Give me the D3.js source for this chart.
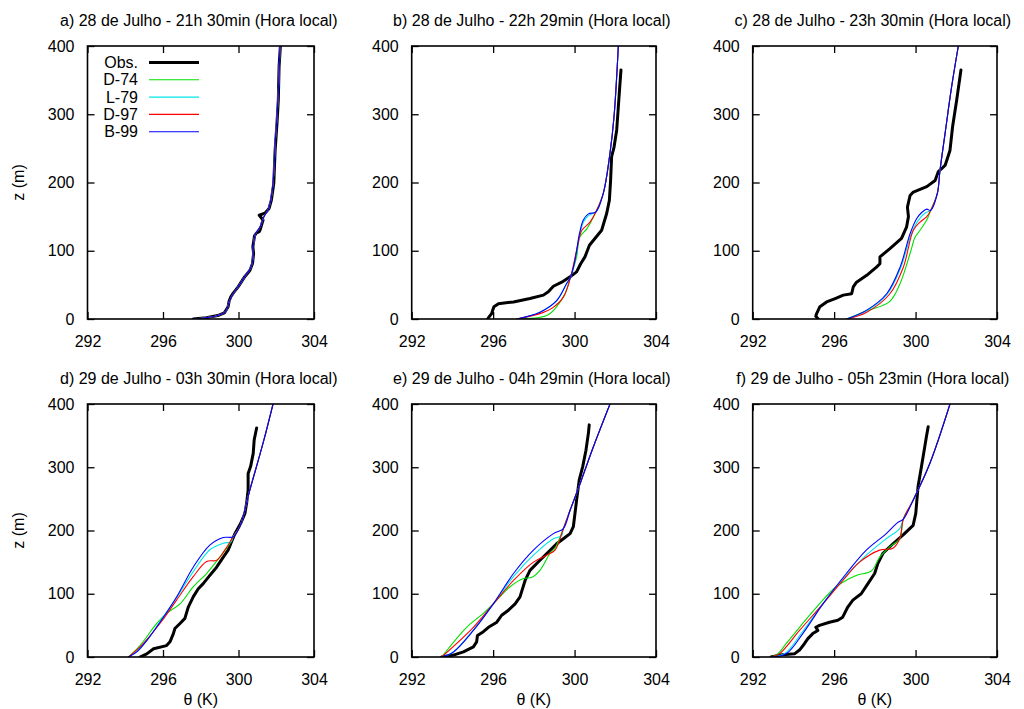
<!DOCTYPE html>
<html>
<head>
<meta charset="utf-8">
<script src="https://cdn.jsdelivr.net/npm/d3@7"></script>
<style>
  body { margin: 0; background: #fff; }
  svg text { font-family: "Liberation Sans", Arial, Helvetica, sans-serif; fill: #000; }
</style>
</head>
<body>
<svg width="1024" height="709"></svg>
<script>
// Series names and tick labels
var seriesNames = ["Obs.", "D-74", "L-79", "D-97", "B-99"];
var xTicks = [292, 296, 300, 304];
var yTicks = [0, 100, 200, 300, 400];
var titles = [
  "a) 28 de Julho - 21h 30min (Hora local)",
  "b) 28 de Julho - 22h 29min (Hora local)",
  "c) 28 de Julho - 23h 30min (Hora local)",
  "d) 29 de Julho - 03h 30min (Hora local)",
  "e) 29 de Julho - 04h 29min (Hora local)",
  "f) 29 de Julho - 05h 23min (Hora local)"
];

// ---- a) values are [theta (K), z (m)] ----
var obsA = [[297.6,0],[298.3,2],[298.9,5],[299.25,9],[299.45,18],[299.5,26],[299.6,33],[299.72,38],[299.98,47],
  [300.33,62],[300.6,71],[300.74,81],[300.8,96],[300.76,106],[300.85,122],[300.95,126],[301.1,128],[301.15,131],
  [301.3,145],[301.1,152],[301.4,155],[301.62,162],[301.74,174],[301.87,199],[301.94,247],[302.04,287],[302.11,321],
  [302.15,370],[302.22,400]];
// all four fits lie on top of each other in a)
var fitA = [[297.6,0],[298.9,5],[299.35,12],[299.5,25],[299.75,38],[300.05,50],[300.4,65],[300.65,75],[300.77,90],
  [300.8,110],[300.9,125],[301.15,135],[301.35,150],[301.6,162],[301.75,180],[301.86,210],[301.95,260],[302.05,300],
  [302.12,340],[302.2,400]];

// ---- b) ----
var obsB = [[295.73,0],[295.8,3],[295.93,8],[295.98,13],[296.04,18],[296.26,22.5],[297.0,25],[297.81,30],[298.47,35],
  [298.71,40],[298.96,48],[299.37,54],[299.78,62],[300.1,69],[300.3,81],[300.51,91],[300.73,108],[301.0,118],
  [301.33,130],[301.58,155],[301.71,174],[301.77,203],[301.82,238],[301.94,252],[302.07,277],[302.15,311],
  [302.23,345],[302.28,365]];
var topB = [[301.41,184],[301.74,243],[301.94,297],[302.15,400]];
var d74B = [[297.16,0],[298.63,5],[299.12,18],[299.53,37],[299.81,62],[300.1,91],[300.26,120],[300.6,132],[301.05,157]];
var l79B = [[297.16,0],[298.3,10],[299.12,27],[299.61,52],[299.81,62],[300.03,88],[300.24,122],[300.45,143],[300.7,152],[301.05,157]];
var d97B = [[297.16,0],[298.4,9],[298.9,16],[299.45,32],[299.81,62],[300.14,106],[300.36,130],[300.76,142],[301.05,157]];
var b99B = [[297.16,0],[298.3,10],[299.12,27],[299.61,52],[299.81,62],[300.02,86],[300.24,125],[300.43,145],[300.68,154],[301.05,157]];

// ---- c) ----
var obsC = [[295.22,0],[295.1,4],[295.14,8],[295.3,18],[295.63,25],[296.05,30],[296.45,35],[296.86,37],[296.94,47],
  [297.1,54],[297.6,64],[298.08,76],[298.25,81],[298.25,91],[298.74,103],[299.31,118],[299.56,135],[299.65,150],
  [299.6,164],[299.73,181],[299.89,186],[300.55,194],[300.96,203],[301.12,216],[301.45,225],[301.69,247],
  [301.82,282],[302.02,321],[302.23,365]];
var topC = [[301.07,184],[301.2,218],[301.45,272],[301.77,340],[302.1,400]];
var d74C = [[296.62,0],[297.6,12],[298.71,25],[299.24,52],[299.73,96],[299.98,120],[300.22,130],[300.55,145],[300.74,159]];
var l79C = [[296.62,0],[297.6,12],[298.6,36],[299.27,75],[299.76,122],[300.1,143],[300.45,155],[300.74,159]];
var d97C = [[296.62,0],[297.6,10],[298.74,37],[299.4,76],[299.89,130],[300.22,142],[300.55,150],[300.74,159]];
var b99C = [[296.62,0],[297.6,13],[298.58,37],[299.24,76],[299.73,125],[300.05,147],[300.3,156],[300.55,161],[300.74,159]];

// ---- d) ----
var obsD = [[294.78,0],[295.14,5],[295.5,13],[296.19,18],[296.37,24],[296.55,37],[296.63,45],[296.9,53],[297.16,61],
  [297.34,79],[297.6,95],[297.87,108],[298.13,116],[298.48,129],[298.84,142],[299.15,156],[299.45,169],[299.67,185],
  [299.81,195],[300.11,211],[300.34,227],[300.43,243],[300.51,264],[300.51,290],[300.64,301],[300.78,322],
  [300.83,343],[300.96,362]];
var topD = [[300.07,206],[300.6,264],[301.3,338],[301.83,400]];
var d74D = [[294.17,0],[294.78,18],[295.67,53],[296.19,69],[296.9,84],[297.6,111],[298.31,132],[299.01,158],[299.54,179],[299.72,190]];
var l79D = [[294.17,0],[294.6,8],[295.14,26],[295.84,56],[296.75,95],[297.65,137],[298.5,170],[299.2,180],[299.6,182],[299.72,190]];
var d97D = [[294.17,0],[294.78,16],[295.84,53],[296.72,90],[297.6,127],[298.31,151],[298.84,153],[299.27,169],[299.72,190]];
var b99D = [[294.17,0],[294.61,8],[295.14,26],[295.84,55],[296.72,95],[297.6,142],[298.48,177],[299.2,189],[299.72,190]];

// ---- e) ----
var obsE = [[293.47,0],[294.05,3],[294.54,8],[295.03,16],[295.19,24],[295.23,34],[295.52,40],[295.77,47],[296.18,55],
  [296.42,66],[296.75,74],[297.08,84],[297.32,95],[297.57,121],[297.81,137],[298.3,153],[298.71,166],[299.12,179],
  [299.45,187],[299.78,195],[299.94,206],[300.1,248],[300.23,280],[300.4,301],[300.56,327],[300.68,354],[300.72,367]];
var topE = [[299.78,232],[300.27,274],[300.92,332],[301.74,400]];
var d74E = [[293.47,0],[294.7,47],[295.52,69],[296.01,84],[296.83,111],[297.49,124],[297.9,126],[298.3,137],[298.8,164],[299.04,172],[299.45,203]];
var l79E = [[293.47,0],[294.05,8],[295.03,43],[296.01,84],[297.0,127],[297.98,161],[298.96,187],[299.37,192],[299.45,203]];
var d97E = [[293.47,0],[295.03,47],[296.01,84],[297.0,121],[297.98,150],[298.63,161],[299.04,169],[299.45,203]];
var b99E = [[293.47,0],[294.05,8],[295.03,42],[296.01,84],[297.0,132],[297.98,169],[298.96,195],[299.45,203]];

// ---- f) ----
var obsF = [[292.9,0],[293.31,3],[294.05,5],[294.3,11],[294.54,21],[294.71,29],[294.95,37],[295.2,42],[295.1,47],
  [295.28,50],[295.77,55],[296.18,58],[296.42,63],[296.67,79],[296.92,90],[297.33,100],[297.66,116],[297.99,132],
  [298.15,148],[298.4,164],[298.89,179],[299.39,193],[299.88,208],[300.01,227],[300.12,269],[300.29,301],
  [300.45,332],[300.53,348],[300.62,364]];
var topF = [[299.88,248],[300.7,306],[301.69,400]];
var d74F = [[292.9,0],[293.2,4],[293.64,21],[294.3,47],[295.28,84],[296.1,111],[297.08,129],[297.83,136],[298.24,158],[298.73,174],[299.22,187],[299.4,218]];
var l79F = [[292.9,0],[293.6,6],[294.4,38],[295.45,84],[296.6,129],[297.58,161],[298.56,187],[299.22,203],[299.4,218]];
var d97F = [[292.9,0],[293.31,5],[294.3,42],[295.45,84],[296.43,121],[297.25,150],[298.24,169],[298.89,172],[299.22,187],[299.4,218]];
var b99F = [[292.9,0],[293.64,5],[294.46,37],[295.45,84],[296.6,132],[297.58,169],[298.56,195],[299.1,212],[299.4,218]];

// ---- layout ----
var colors = ["#000000", "#00e000", "#00e8e8", "#ff0000", "#0000ff"];
var widths = [3, 1.1, 1.1, 1.1, 1.1];
var cols = [[87.5, 314], [411.7, 656], [752.7, 997]];
var rows = [[46, 319], [404, 657]];
var tickLen = 7;

var panels = [
  [obsA, fitA, fitA, fitA, fitA],
  [obsB, d74B.concat(topB), l79B.concat(topB), d97B.concat(topB), b99B.concat(topB)],
  [obsC, d74C.concat(topC), l79C.concat(topC), d97C.concat(topC), b99C.concat(topC)],
  [obsD, d74D.concat(topD), l79D.concat(topD), d97D.concat(topD), b99D.concat(topD)],
  [obsE, d74E.concat(topE), l79E.concat(topE), d97E.concat(topE), b99E.concat(topE)],
  [obsF, d74F.concat(topF), l79F.concat(topF), d97F.concat(topF), b99F.concat(topF)]
];

var svg = d3.select("svg");

panels.forEach(function(series, p) {
  var r = Math.floor(p / 3), c = p % 3;
  var x0 = cols[c][0], x1 = cols[c][1], y0 = rows[r][0], y1 = rows[r][1];

  var x = d3.scaleLinear().domain([292, 304]).range([x0, x1]);
  var y = d3.scaleLinear().domain([0, 400]).range([y1, y0]);

  var g = svg.append("g");

  svg.append("clipPath").attr("id", "clip" + p)
    .append("rect").attr("x", x0).attr("y", y0).attr("width", x1 - x0).attr("height", y1 - y0);

  // curves: obs first, models on top, blue last
  var lineObs = d3.line().x(function(d) { return x(d[0]); }).y(function(d) { return y(d[1]); });
  var lineFit = d3.line().x(function(d) { return x(d[0]); }).y(function(d) { return y(d[1]); })
    .curve(d3.curveCatmullRom.alpha(0.5));

  var lines = g.append("g").attr("clip-path", "url(#clip" + p + ")");
  series.forEach(function(s, i) {
    lines.append("path")
      .attr("d", i == 0 ? lineObs(s) : lineFit(s))
      .attr("fill", "none")
      .attr("stroke", colors[i])
      .attr("stroke-width", widths[i])
      .attr("stroke-linejoin", "round")
      .attr("stroke-linecap", "round");
  });

  // axes with inward ticks on all four sides (gnuplot style)
  g.append("g").attr("transform", "translate(0," + y1 + ")")
    .call(d3.axisBottom(x).tickValues(xTicks).tickSizeInner(-tickLen).tickSizeOuter(0).tickPadding(tickLen + 10));
  g.append("g").attr("transform", "translate(0," + y0 + ")")
    .call(d3.axisTop(x).tickValues(xTicks).tickSizeInner(-tickLen).tickSizeOuter(0).tickFormat(""));
  g.append("g").attr("transform", "translate(" + x0 + ",0)")
    .call(d3.axisLeft(y).tickValues(yTicks).tickSizeInner(-tickLen).tickSizeOuter(0).tickPadding(tickLen + 6));
  g.append("g").attr("transform", "translate(" + x1 + ",0)")
    .call(d3.axisRight(y).tickValues(yTicks).tickSizeInner(-tickLen).tickSizeOuter(0).tickFormat(""));

  g.selectAll(".domain").remove();
  g.selectAll(".tick line").attr("stroke", "#000").attr("stroke-width", 1.3);
  g.selectAll(".tick text").attr("font-size", "16px").attr("font-family", null);

  g.append("rect").attr("x", x0).attr("y", y0).attr("width", x1 - x0).attr("height", y1 - y0)
    .attr("fill", "none").attr("stroke", "#000").attr("stroke-width", 1.6);

  g.append("text").attr("x", (x0 + x1) / 2 - 2).attr("y", y0 - 20)
    .attr("text-anchor", "middle").attr("font-size", "16px").text(titles[p]);

  if (c == 0) {
    g.append("text").attr("transform", "translate(24," + ((y0 + y1) / 2) + ") rotate(-90)")
      .attr("text-anchor", "middle").attr("font-size", "16px").text("z (m)");
  }
  if (r == 1) {
    g.append("text").attr("x", (x0 + x1) / 2).attr("y", 705)
      .attr("text-anchor", "middle").attr("font-size", "16px").text("θ (K)");
  }

  // legend only in the first panel
  if (p == 0) {
    seriesNames.forEach(function(name, i) {
      var ly = 62.5 + i * 17.3;
      g.append("text").attr("x", 138).attr("y", ly).attr("dy", "0.35em")
        .attr("text-anchor", "end").attr("font-size", "16px").text(name);
      g.append("line").attr("x1", 149).attr("x2", 199).attr("y1", ly).attr("y2", ly)
        .attr("stroke", colors[i]).attr("stroke-width", widths[i]);
    });
  }
});
</script>
</body>
</html>
